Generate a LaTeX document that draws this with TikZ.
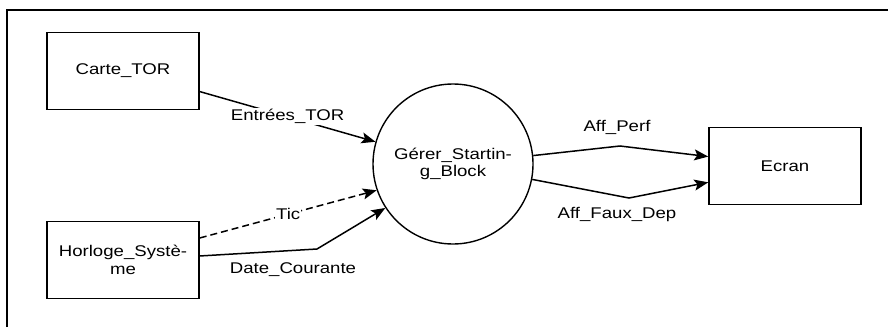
\documentclass[tikz,border=0pt]{standalone}
\usepackage{fontspec}
\setmainfont{Liberation Sans}[FakeStretch=1.2]
\usetikzlibrary{arrows.meta}

\begin{document}
\begin{tikzpicture}[x=1pt,y=-1pt,
  every node/.style={font=\fontsize{15.5}{17.5}\selectfont},
  boite/.style={draw,line width=1.5pt,rectangle,minimum width=152pt,minimum height=77pt,inner sep=0pt},
  processus/.style={draw,line width=1.4pt,circle,minimum size=160pt,inner sep=0pt,align=center},
  flux/.style={line width=1.5pt,-{Stealth[length=14pt,width=11pt,inset=3pt]}},
  etiq/.style={fill=white,inner sep=1pt}]
\useasboundingbox (0,0) rectangle (888,327);
\draw[line width=1.6pt] (7,327) -- (7,10) -- (888,10);
\node[boite] (carte) at (123,71)  {Carte\_TOR};
\node[boite,align=center] (horloge) at (123,260) {Horloge\_Systè-\\me};
\node[processus] (gerer) at (453,164) {Gérer\_Startin-\\g\_Block};
\node[boite] (ecran) at (785,166) {Ecran};
%-------------
\coordinate (bDate) at (317,249);
\coordinate (bPerf) at (620,146);
\coordinate (bFaux) at (629,198);
\draw[flux] (carte.-15) -- node[etiq] (lEntrees) {Entrées\_TOR} (gerer.164);
\draw[flux,dash pattern=on 7pt off 4pt] (horloge.16) -- node[etiq] (lTic) {Tic} (gerer.199);
\foreach \from/\via/\to in {horloge.3/bDate/gerer.213,gerer.6/bPerf/ecran.173,gerer.-11/bFaux/ecran.192}
\draw[flux] (\from) -- (\via) -- (\to);
%------------
\node (lDate) at (293,270) {Date\_Courante};
\node (lPerf) at (617,127) {Aff\_Perf};
\node (lFaux) at (617,214) {Aff\_Faux\_Dep};
\end{tikzpicture}
\end{document}
